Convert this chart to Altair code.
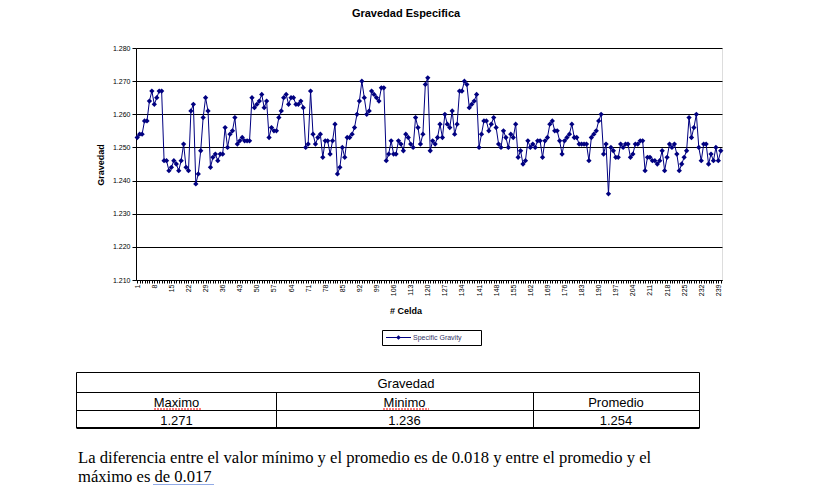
import altair as alt
import pandas as pd

# ---- data ----
celda = list(range(1, 241))
gravedad = [
    1.253, 1.254, 1.254, 1.258, 1.258, 1.264, 1.267, 1.263, 1.265, 1.267,
    1.267, 1.246, 1.246, 1.243, 1.244, 1.246, 1.245, 1.243, 1.246, 1.251,
    1.244, 1.243, 1.261, 1.263, 1.239, 1.242, 1.249, 1.259, 1.265, 1.261,
    1.244, 1.247, 1.248, 1.246, 1.248, 1.248, 1.256, 1.250, 1.254, 1.255,
    1.259, 1.251, 1.252, 1.253, 1.252, 1.252, 1.252, 1.265, 1.262, 1.263,
    1.264, 1.266, 1.262, 1.264, 1.253, 1.256, 1.255, 1.255, 1.259, 1.261,
    1.265, 1.266, 1.263, 1.265, 1.265, 1.263, 1.263, 1.264, 1.262, 1.250,
    1.251, 1.267, 1.254, 1.251, 1.253, 1.254, 1.247, 1.252, 1.252, 1.248,
    1.252, 1.257, 1.242, 1.244, 1.250, 1.247, 1.253, 1.253, 1.254, 1.256,
    1.260, 1.264, 1.270, 1.265, 1.260, 1.261, 1.267, 1.266, 1.265, 1.264,
    1.268, 1.268, 1.246, 1.248, 1.252, 1.248, 1.248, 1.252, 1.251, 1.249,
    1.254, 1.253, 1.251, 1.250, 1.259, 1.256, 1.251, 1.254, 1.269, 1.271,
    1.249, 1.252, 1.251, 1.253, 1.257, 1.253, 1.260, 1.257, 1.256, 1.261,
    1.254, 1.257, 1.267, 1.267, 1.270, 1.269, 1.262, 1.263, 1.264, 1.266,
    1.250, 1.254, 1.258, 1.258, 1.255, 1.257, 1.259, 1.256, 1.251, 1.250,
    1.255, 1.253, 1.250, 1.254, 1.253, 1.257, 1.247, 1.249, 1.245, 1.246,
    1.252, 1.250, 1.251, 1.250, 1.252, 1.252, 1.247, 1.252, 1.253, 1.257,
    1.258, 1.255, 1.255, 1.252, 1.248, 1.252, 1.253, 1.254, 1.257, 1.253,
    1.253, 1.251, 1.251, 1.251, 1.251, 1.246, 1.253, 1.254, 1.255, 1.258,
    1.260, 1.248, 1.251, 1.236, 1.250, 1.249, 1.247, 1.247, 1.251, 1.250,
    1.251, 1.251, 1.247, 1.248, 1.251, 1.251, 1.252, 1.252, 1.243, 1.247,
    1.247, 1.246, 1.246, 1.245, 1.246, 1.249, 1.243, 1.247, 1.251, 1.250,
    1.251, 1.248, 1.243, 1.245, 1.247, 1.249, 1.259, 1.253, 1.256, 1.260,
    1.250, 1.246, 1.251, 1.251, 1.245, 1.248, 1.246, 1.250, 1.246, 1.249,
]
x_label_values = list(range(1, 240, 7))
y_tick_values = [1.21, 1.22, 1.23, 1.24, 1.25, 1.26, 1.27, 1.28]

chart_title = "Gravedad Especifica"
y_title = "Gravedad"
x_title = "#  Celda"
legend_label = "Specific Gravity"

table_header = "Gravedad"
table_cols = ["Maximo", "Minimo", "Promedio"]
table_vals = ["1.271", "1.236", "1.254"]

para_line1 = "La diferencia entre el valor mínimo y el promedio es de 0.018 y entre el promedio y el"
para_line2 = "máximo es de  0.017"

df = pd.DataFrame({"Celda": celda, "Gravedad": gravedad})

SANS = "Liberation Sans"
SERIF = "Liberation Serif"
NAVY = "#000080"

one = alt.Data(values=[{"k": 0}])


def txt(s, x, y, size, font=SANS, weight="normal", align="center", angle=0, color="black"):
    return alt.Chart(one).mark_text(
        text=s, font=font, fontSize=size, fontWeight=weight, align=align,
        baseline="middle", angle=angle, color=color
    ).encode(x=alt.value(x), y=alt.value(y))


def rule(x1, x2, y1, y2, color="black", width=1, dash=None):
    kw = dict(color=color, strokeWidth=width)
    if dash:
        kw["strokeDash"] = dash
    return alt.Chart(one).mark_rule(**kw).encode(
        x=alt.value(x1), x2=alt.value(x2), y=alt.value(y1), y2=alt.value(y2)
    )


label_list = ",".join(str(v) for v in x_label_values)
x_axis = alt.Axis(
    title=None,
    labelExpr=f"indexof([{label_list}], datum.value) >= 0 ? datum.label : ''",
    labelAngle=270, labelFont=SANS, labelFontSize=7, labelColor="black",
    labelOverlap=False, labelPadding=1, tickSize=3, tickColor="black",
    domainColor="black", grid=False,
)
y_axis = alt.Axis(
    title=None, values=y_tick_values, format=".3f",
    labelFont=SANS, labelFontSize=7, labelColor="black", labelPadding=2,
    tickSize=4, tickColor="black", domainColor="black",
    grid=True, gridColor="black", gridWidth=1,
)

base = alt.Chart(df).encode(
    x=alt.X("Celda:O", scale=alt.Scale(type="point", padding=0.5), axis=x_axis),
    y=alt.Y("Gravedad:Q", scale=alt.Scale(domain=[1.21, 1.28], nice=False, zero=False), axis=y_axis),
)
line = base.mark_line(color=NAVY, strokeWidth=1)
pts = base.mark_point(shape="diamond", filled=True, size=28, color=NAVY, opacity=1)

layers = [line, pts]

# chart texts
layers.append(txt(chart_title, 270, -34, 11, weight="bold"))
layers.append(txt(y_title, -35, 117, 9, weight="bold", angle=270))
layers.append(txt(x_title, 270, 263, 9, weight="bold"))

# legend
layers.append(
    alt.Chart(one).mark_rect(fill="white", stroke="black", strokeWidth=1).encode(
        x=alt.value(246.5), x2=alt.value(345.5), y=alt.value(282.5), y2=alt.value(297.5)
    )
)
layers.append(rule(250, 275, 289.5, 289.5, color=NAVY))
layers.append(
    alt.Chart(one).mark_point(shape="diamond", filled=True, size=22, color=NAVY, opacity=1).encode(
        x=alt.value(262.5), y=alt.value(289.5)
    )
)
layers.append(txt(legend_label, 277, 289.5, 7, align="left", color="#333366"))

# table
L, C1, C2, R = -59.5, 140.5, 397.5, 563.5
T, R1, R2, B = 324.5, 344.5, 362.5, 380
layers += [
    rule(L, R, T, T),
    rule(L, R, R1, R1),
    rule(L, R, R2, R2),
    rule(L, R, B, B, width=2),
    rule(L, L, T, B),
    rule(R, R, T, B),
    rule(C1, C1, R1, B),
    rule(C2, C2, R1, B),
]
layers.append(txt(table_header, 270, 336, 13))
col_centers = [40.5, 268.5, 480]
for cx, name, val in zip(col_centers, table_cols, table_vals):
    layers.append(txt(name, cx, 355, 13))
    layers.append(txt(val, cx, 373, 13))
# spell-check squiggles under Maximo / Minimo
layers.append(rule(18, 65, 361, 361, color="red", dash=[2, 1]))
layers.append(rule(247, 293, 361, 361, color="red", dash=[2, 1]))

# paragraph
layers.append(txt(para_line1, -58, 410, 16.6, font=SERIF, align="left"))
layers.append(txt(para_line2, -58, 429, 16.6, font=SERIF, align="left"))
layers.append(rule(17, 78, 437, 437, color="#2255cc"))

chart = alt.layer(*layers).properties(
    width=586, height=232,
    padding={"left": 128, "top": 40, "right": 89, "bottom": 205},
    autosize=alt.AutoSizeParams(type="none"),
).configure_view(stroke=None).configure(background="white")

chart.save("out.html", embed_options={"renderer": "svg", "actions": False})
